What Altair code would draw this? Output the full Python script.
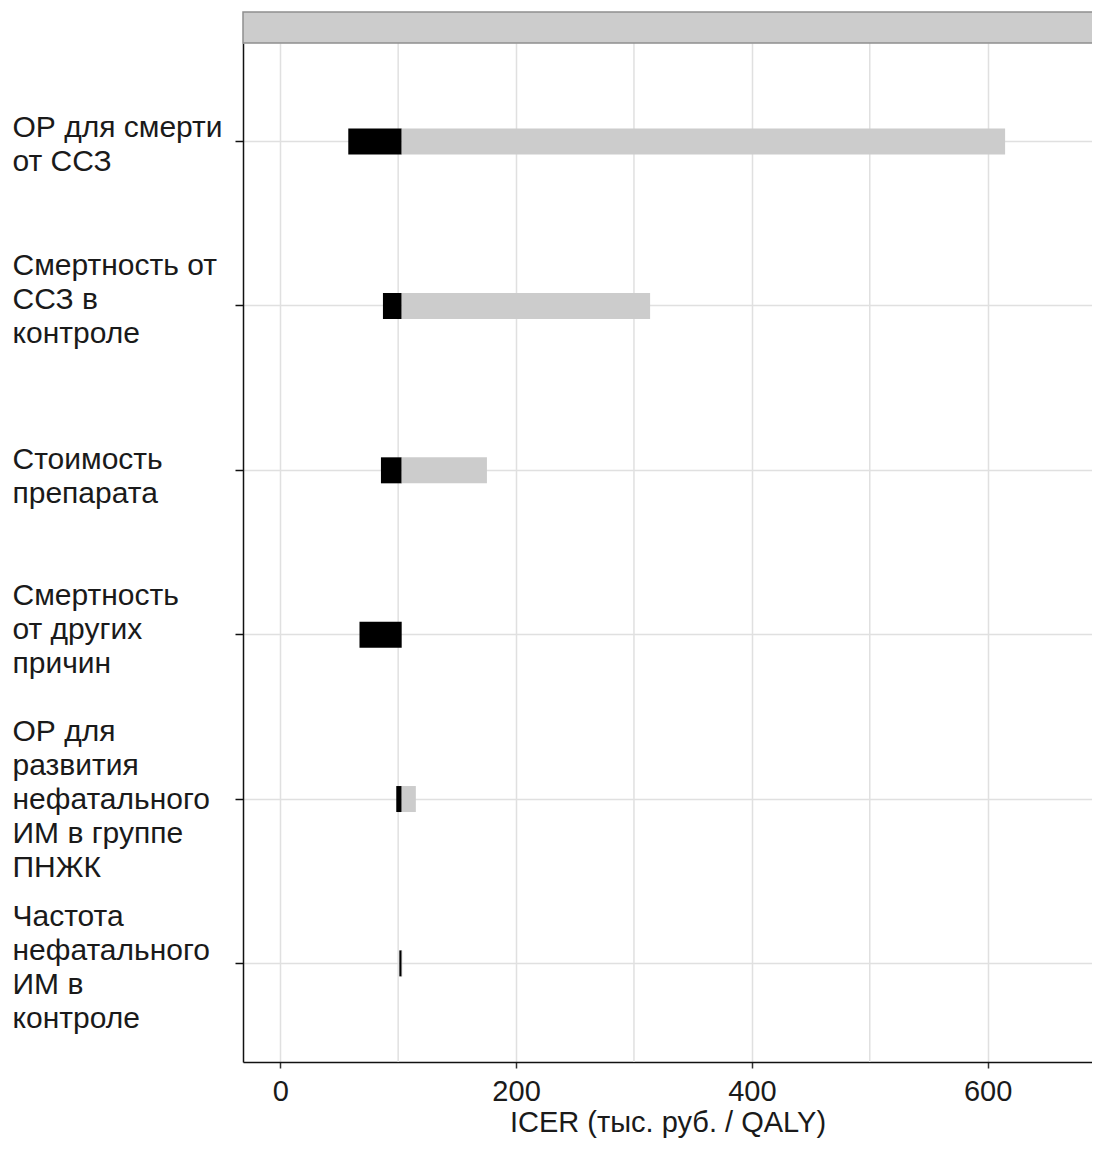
import altair as alt
import pandas as pd

categories = [
    "ОР для смерти|от ССЗ",
    "Смертность от|ССЗ в|контроле",
    "Стоимость|препарата",
    "Смертность|от других|причин",
    "ОР для|развития|нефатального|ИМ в группе|ПНЖК",
    "Частота|нефатального|ИМ в|контроле",
]
low_icer = [57.7, 87.1, 85.4, 67.2, 98.4, 101.0]
high_icer = [614.8, 313.7, 175.3, 103.0, 115.0, 103.5]
base_icer = 103.0
minor_grid = [100, 300, 500]
x_ticks = [0, 200, 400, 600]
# vertical shift of the first label line relative to its tick (px)
label_shift = [-14, -40, -10, -39, -67, -46]

rows = []
for c, lo, hi in zip(categories, low_icer, high_icer):
    rows.append({"cat": c, "start": lo, "end": base_icer, "kind": "low"})
    if hi > base_icer:
        rows.append({"cat": c, "start": base_icer, "end": hi, "kind": "high"})
df = pd.DataFrame(rows)
grid_df = pd.DataFrame({"g": minor_grid})

W, H = 849, 1019
FONT = "Liberation Sans"

xscale = alt.Scale(domain=[-31.6, 688.5], nice=False, zero=False)

label_offset = {
    "condition": [
        {"test": "datum.value == '%s'" % c, "value": s}
        for c, s in zip(categories, label_shift)
    ],
    "value": 0,
}

strip = alt.Chart(pd.DataFrame({"d": [0]})).mark_rect(
    fill="#cccccc", stroke="#8f8f8f", strokeWidth=1.5
).encode(
    x=alt.value(0), x2=alt.value(W + 4), y=alt.value(-31), y2=alt.value(0)
)

minor = alt.Chart(grid_df).mark_rule(color="#e0e0e0", strokeWidth=1.5).encode(
    x=alt.X("g:Q", scale=xscale)
)

bars = alt.Chart(df).mark_bar(size=26).encode(
    y=alt.Y(
        "cat:N",
        sort=categories,
        scale=alt.Scale(domain=categories, paddingInner=0, paddingOuter=0.1),
        axis=alt.Axis(
            title=None,
            labelAlign="left",
            labelBaseline="middle",
            labelPadding=223,
            labelOffset=label_offset,
            tickSize=8,
            tickColor="#111111",
            tickWidth=1.5,
            labelFontSize=30,
            labelFont=FONT,
            labelColor="#1a1a1a",
            labelLimit=400,
            labelExpr="split(datum.label, '|')",
            labelLineHeight=34,
            bandPosition=0.5,
            domainColor="#111111",
            domainWidth=1.5,
            grid=True,
            gridColor="#e0e0e0",
            gridWidth=1.5,
        ),
    ),
    x=alt.X(
        "start:Q",
        scale=xscale,
        axis=alt.Axis(
            title="ICER (тыс. руб. / QALY)",
            values=x_ticks,
            tickSize=6,
            tickColor="#333333",
            tickWidth=1.5,
            labelFontSize=29,
            labelFont=FONT,
            labelColor="#1a1a1a",
            labelPadding=9,
            titleFontSize=29,
            titleFont=FONT,
            titleFontWeight="normal",
            titleColor="#1a1a1a",
            titlePadding=2,
            domainColor="#111111",
            domainWidth=1.5,
            grid=True,
            gridColor="#e0e0e0",
            gridWidth=1.5,
        ),
    ),
    x2="end:Q",
    color=alt.Color(
        "kind:N",
        scale=alt.Scale(domain=["low", "high"], range=["#000000", "#cccccc"]),
        legend=None,
    ),
)

chart = alt.layer(minor, bars, strip).properties(
    width=W,
    height=H,
    padding={"left": 235, "top": 35, "right": 0, "bottom": 80},
    autosize=alt.AutoSizeParams(type="none"),
).configure_view(stroke=None)

chart.save("out.html", embed_options={"renderer": "svg", "actions": False})
